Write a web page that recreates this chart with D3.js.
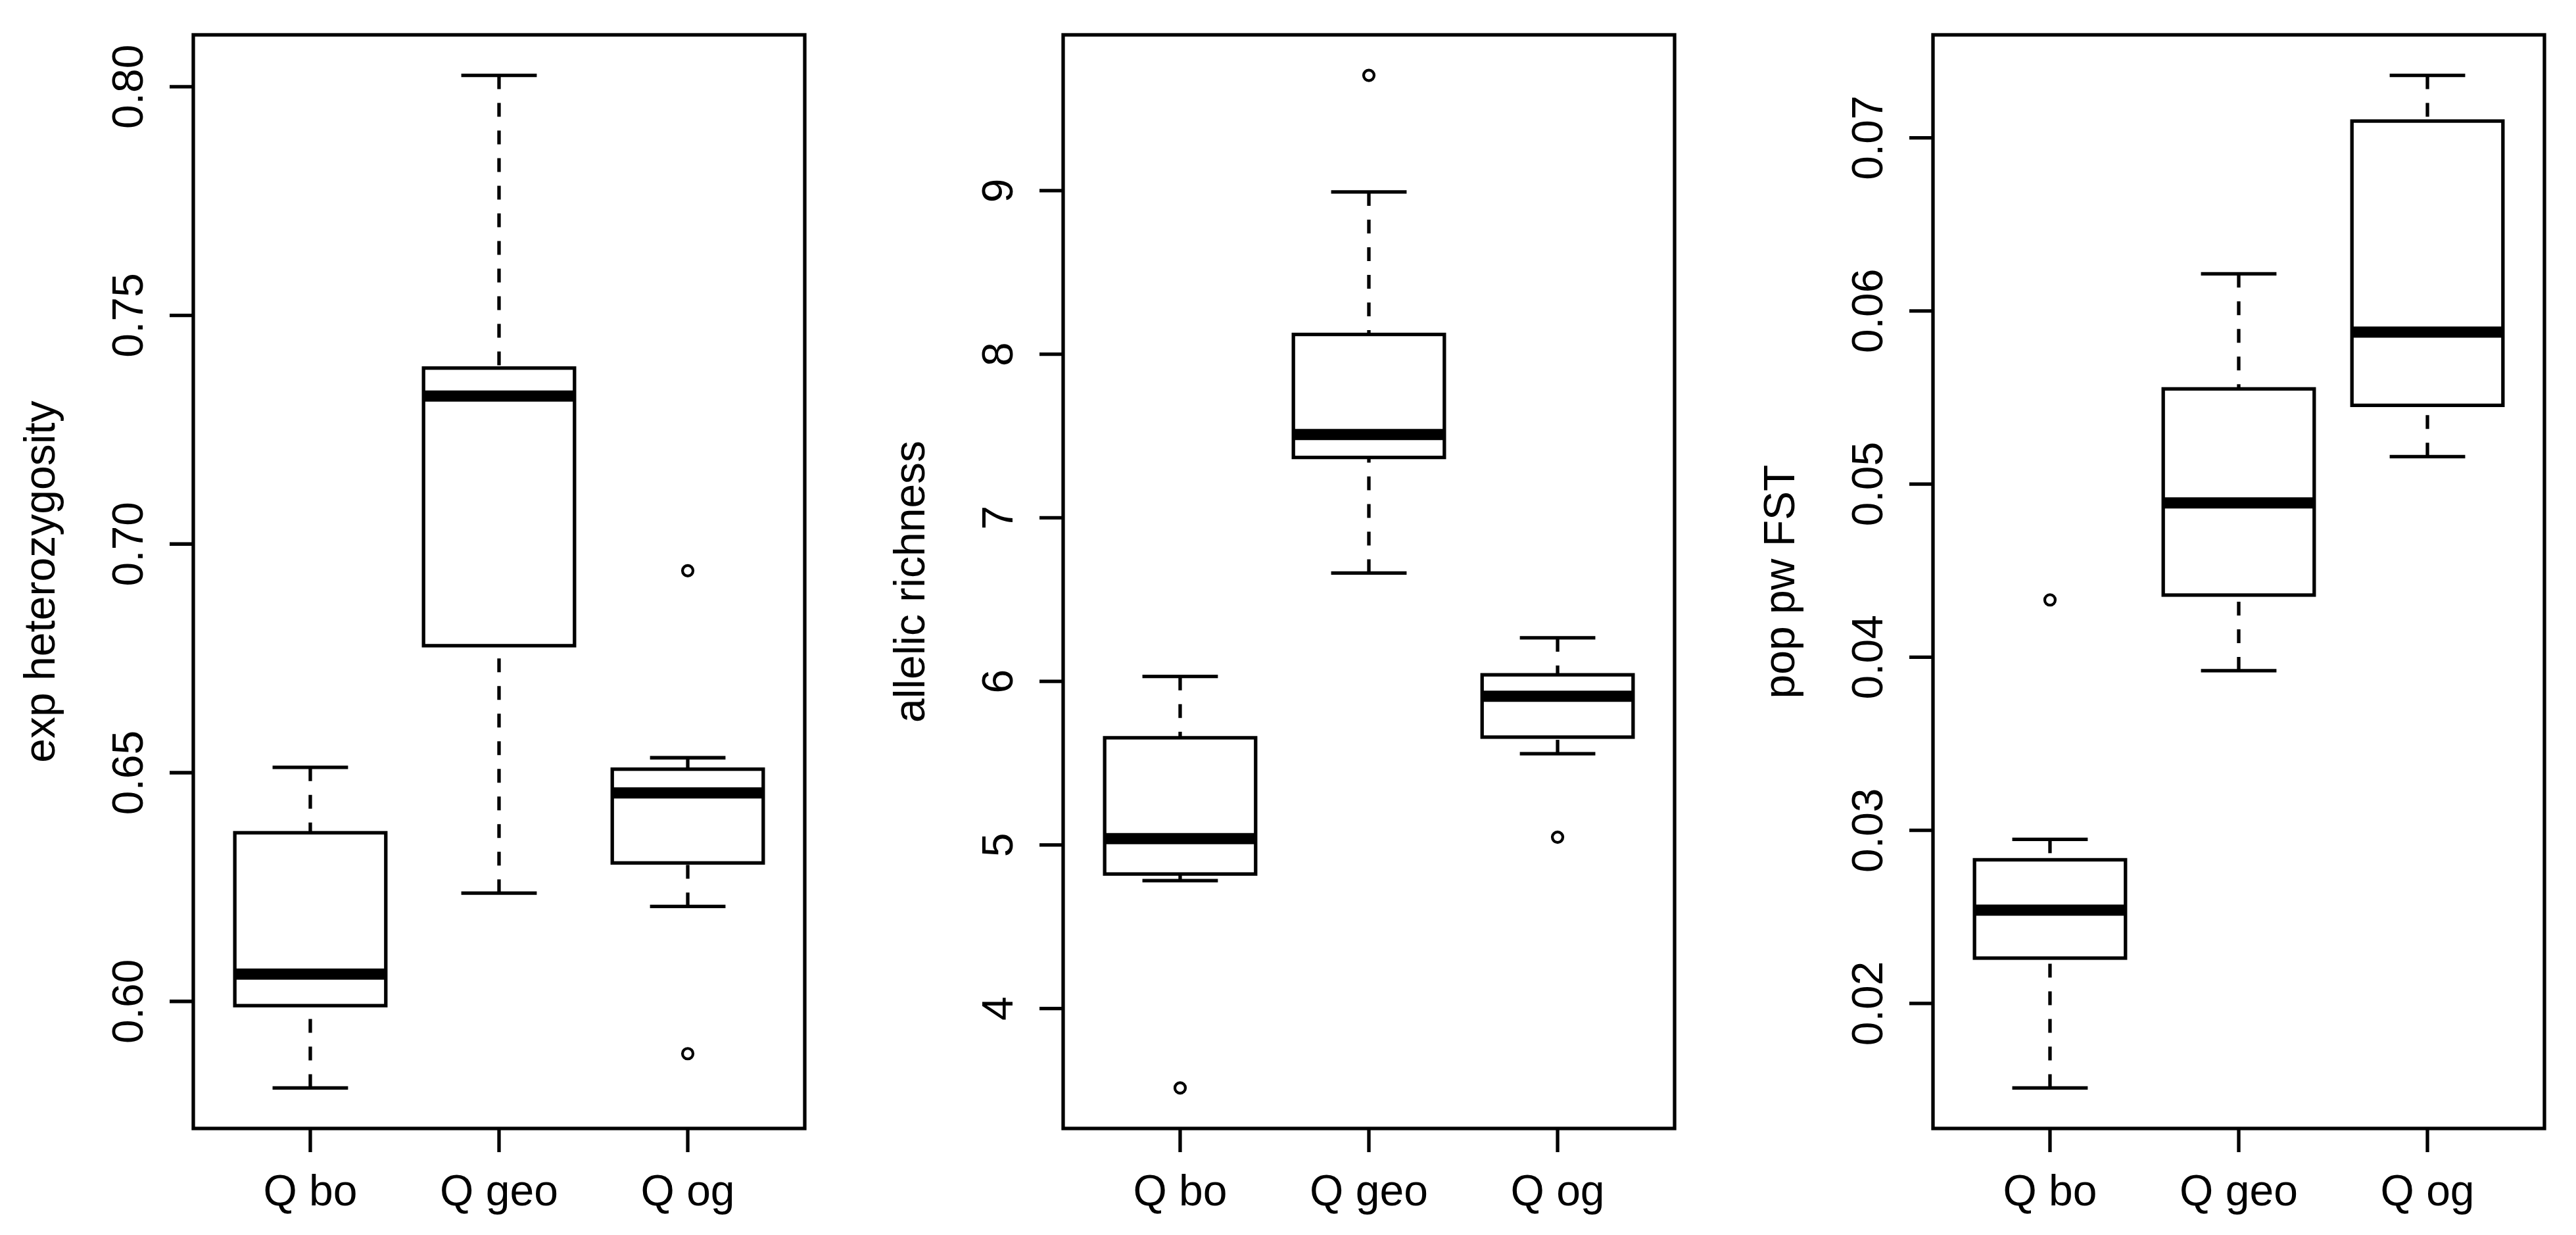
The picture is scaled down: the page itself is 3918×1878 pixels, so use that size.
<!DOCTYPE html>
<html>
<head>
<meta charset="utf-8">
<script src="https://cdn.jsdelivr.net/npm/d3@7"></script>
<style>
  body { margin: 0; background: #fff; }
  text { font-family: "Liberation Sans", Arial, sans-serif; fill: #000; }
</style>
</head>
<body>
<div class="usable"></div>
<script>
// grupos (eje x)
const groups = ["Q bo", "Q geo", "Q og"]

// exp heterozygosity
const hetLow = [0.5810, 0.6236, 0.6207]
const hetQ1 = [0.5990, 0.6777, 0.6302]
const hetMed = [0.6059, 0.7323, 0.6455]
const hetQ3 = [0.6368, 0.7384, 0.6507]
const hetHigh = [0.6511, 0.8024, 0.6532]
const hetOut = [[], [], [0.6941, 0.5885]]
const hetTicks = [0.60, 0.65, 0.70, 0.75, 0.80]

// allelic richness
const arLow = [4.780, 6.660, 5.556]
const arQ1 = [4.820, 7.367, 5.657]
const arMed = [5.036, 7.507, 5.907]
const arQ3 = [5.653, 8.119, 6.038]
const arHigh = [6.028, 8.990, 6.264]
const arOut = [[3.512], [9.703], [5.045]]
const arTicks = [4, 5, 6, 7, 8, 9]

// pop pw FST
const fstLow = [0.01510, 0.03920, 0.05157]
const fstQ1 = [0.02260, 0.04357, 0.05453]
const fstMed = [0.02537, 0.04889, 0.05876]
const fstQ3 = [0.02828, 0.05548, 0.07095]
const fstHigh = [0.02946, 0.06213, 0.07359]
const fstOut = [[0.04329], [], []]
const fstTicks = [0.02, 0.03, 0.04, 0.05, 0.06, 0.07]

const width = 3918,
  height = 1878

const plotTop = 53,
  plotBottom = 1716,
  plotW = 930,
  lw = 5.3,
  fontSize = 66

let svg = d3.select(".usable").append("svg")
  .attr("width", width)
  .attr("height", height)

function dibujarPanel(left, title, low, q1, med, q3, high, outs, ticks, fmt) {
  let g = svg.append("g")

  // extremos de los datos + 4% como hace R
  let all = low.concat(high, outs.flat())
  let mn = d3.min(all), mx = d3.max(all)
  let pad = (mx - mn) * 0.04
  let y = d3.scaleLinear().domain([mn - pad, mx + pad]).range([plotBottom, plotTop])
  let x = d3.scaleLinear().domain([0.38, 3.62]).range([left, left + plotW])

  let halfBox = x(1.4) - x(1)
  let halfCap = x(1.2) - x(1)

  groups.forEach(function (name, i) {
    let cx = x(i + 1)

    // bigotes punteados, desde la punta hacia la caja
    g.append("line").attr("x1", cx).attr("x2", cx)
      .attr("y1", y(high[i])).attr("y2", y(q3[i]))
      .attr("stroke", "#000").attr("stroke-width", lw).attr("stroke-dasharray", "21,21")
    g.append("line").attr("x1", cx).attr("x2", cx)
      .attr("y1", y(low[i])).attr("y2", y(q1[i]))
      .attr("stroke", "#000").attr("stroke-width", lw).attr("stroke-dasharray", "21,21")

    // topes
    ;[low[i], high[i]].forEach(function (v) {
      g.append("line").attr("x1", cx - halfCap).attr("x2", cx + halfCap)
        .attr("y1", y(v)).attr("y2", y(v))
        .attr("stroke", "#000").attr("stroke-width", lw)
    })

    // caja
    g.append("rect")
      .attr("x", cx - halfBox).attr("y", y(q3[i]))
      .attr("width", halfBox * 2).attr("height", y(q1[i]) - y(q3[i]))
      .attr("fill", "#fff").attr("stroke", "#000").attr("stroke-width", lw)

    // mediana
    g.append("line").attr("x1", cx - halfBox).attr("x2", cx + halfBox)
      .attr("y1", y(med[i])).attr("y2", y(med[i]))
      .attr("stroke", "#000").attr("stroke-width", 17)

    // atipicos
    outs[i].forEach(function (v) {
      g.append("circle").attr("cx", cx).attr("cy", y(v)).attr("r", 8)
        .attr("fill", "none").attr("stroke", "#000").attr("stroke-width", 4.2)
    })

    // tick y etiqueta del eje x
    g.append("line").attr("x1", cx).attr("x2", cx)
      .attr("y1", plotBottom).attr("y2", plotBottom + 36)
      .attr("stroke", "#000").attr("stroke-width", lw)
    g.append("text").text(name)
      .attr("x", cx).attr("y", 1833)
      .attr("text-anchor", "middle").style("font-size", fontSize + "px")
  })

  // eje y
  let axis = g.append("g")
    .attr("transform", "translate(" + left + ",0)")
    .call(d3.axisLeft(y).tickValues(ticks).tickSize(36).tickSizeOuter(0).tickFormat(fmt))
  axis.select(".domain").remove()
  axis.selectAll("line").attr("stroke", "#000").attr("stroke-width", lw)
  axis.selectAll("text")
    .attr("x", null).attr("dy", null)
    .attr("transform", "translate(-77,0) rotate(-90)")
    .attr("text-anchor", "middle")
    .attr("fill", "#000")
    .style("font-size", fontSize + "px")
    .style("font-family", "'Liberation Sans', Arial, sans-serif")

  // marco
  g.append("rect")
    .attr("x", left).attr("y", plotTop)
    .attr("width", plotW).attr("height", plotBottom - plotTop)
    .attr("fill", "none").attr("stroke", "#000").attr("stroke-width", lw)

  // titulo eje y
  g.append("text").text(title)
    .attr("transform", "translate(" + (left - 211) + "," + ((plotTop + plotBottom) / 2) + ") rotate(-90)")
    .attr("text-anchor", "middle").style("font-size", fontSize + "px")
}

dibujarPanel(294, "exp heterozygosity", hetLow, hetQ1, hetMed, hetQ3, hetHigh, hetOut, hetTicks, d3.format(".2f"))
dibujarPanel(1617, "allelic richness", arLow, arQ1, arMed, arQ3, arHigh, arOut, arTicks, d3.format("d"))
dibujarPanel(2940, "pop pw FST", fstLow, fstQ1, fstMed, fstQ3, fstHigh, fstOut, fstTicks, d3.format(".2f"))
</script>
</body>
</html>
